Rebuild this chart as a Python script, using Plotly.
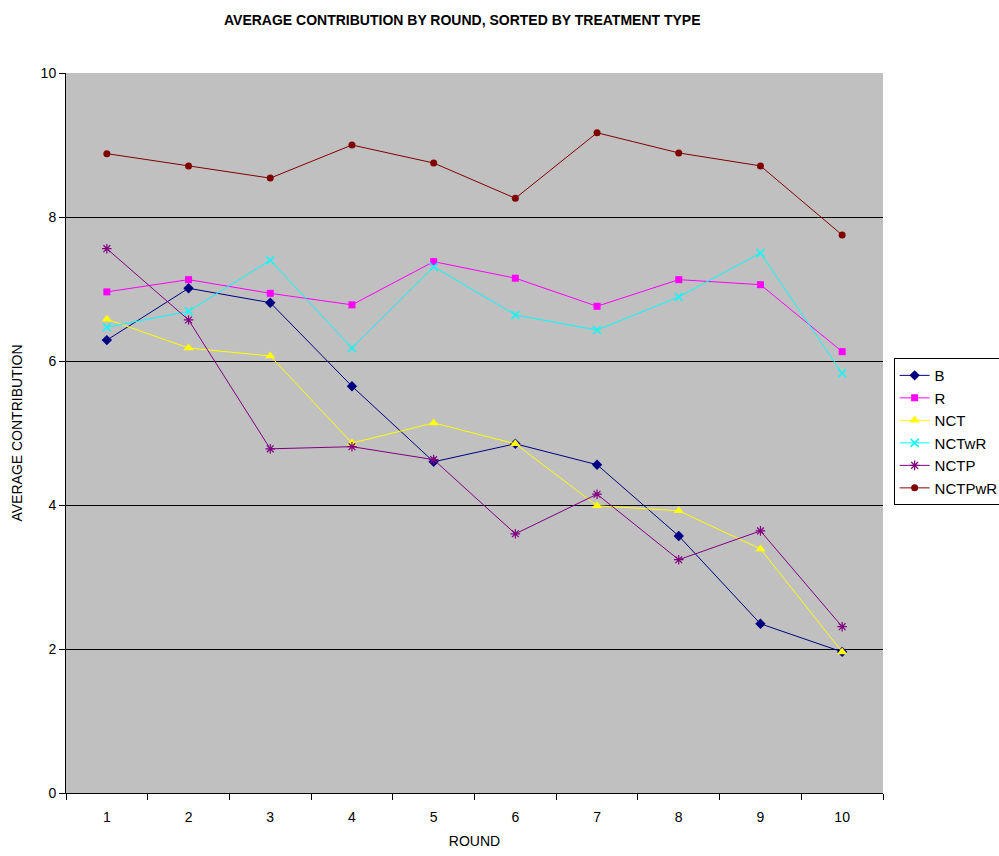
import plotly.graph_objects as go

rounds = [1, 2, 3, 4, 5, 6, 7, 8, 9, 10]

b_vals = [6.29, 7.01, 6.81, 5.65, 4.60, 4.85, 4.56, 3.57, 2.35, 1.96]
r_vals = [6.96, 7.13, 6.94, 6.78, 7.38, 7.15, 6.76, 7.13, 7.06, 6.13]
nct_vals = [6.58, 6.18, 6.07, 4.86, 5.14, 4.85, 3.99, 3.92, 3.39, 1.96]
nctwr_vals = [6.47, 6.69, 7.40, 6.18, 7.31, 6.64, 6.43, 6.89, 7.50, 5.83]
nctp_vals = [7.56, 6.57, 4.78, 4.81, 4.63, 3.60, 4.15, 3.24, 3.64, 2.31]
nctpwr_vals = [8.88, 8.71, 8.54, 9.00, 8.75, 8.26, 9.17, 8.89, 8.71, 7.75]

y_ticks = [0, 2, 4, 6, 8, 10]

series = [
    ("B", b_vals, "#000080", dict(symbol="diamond", size=8)),
    ("R", r_vals, "#FF00FF", dict(symbol="square", size=7)),
    ("NCT", nct_vals, "#FFFF00", dict(symbol="triangle-up", size=9)),
    ("NCTwR", nctwr_vals, "#00FFFF", dict(symbol="x-thin", size=8, line=dict(width=1.5, color="#00FFFF"))),
    ("NCTP", nctp_vals, "#800080", dict(symbol="asterisk", size=8, line=dict(width=1.2, color="#800080"))),
    ("NCTPwR", nctpwr_vals, "#800000", dict(symbol="circle", size=7)),
]

fig = go.Figure()
for name, vals, color, marker in series:
    fig.add_trace(go.Scatter(
        x=rounds, y=vals, name=name, mode="lines+markers",
        line=dict(color=color, width=1),
        marker=dict(color=color, **marker),
    ))

fig.update_layout(
    width=999, height=856,
    margin=dict(l=66, r=116, t=73, b=63, autoexpand=False),
    paper_bgcolor="white",
    plot_bgcolor="#C0C0C0",
    font=dict(family="Liberation Sans, Arial, sans-serif", size=14, color="black"),
    title=dict(
        text="<b>AVERAGE CONTRIBUTION BY ROUND, SORTED BY TREATMENT TYPE</b>",
        x=0.485, xref="paper", xanchor="center", y=0.982, yanchor="top",
        font=dict(size=14),
    ),
    legend=dict(
        x=1.013, y=0.604, xanchor="left", yanchor="top",
        bgcolor="white", bordercolor="black", borderwidth=1,
        font=dict(size=15), tracegroupgap=0,
    ),
    xaxis=dict(
        range=[0.5, 10.5], tickvals=rounds, ticktext=[str(r) for r in rounds],
        ticks="", showgrid=False, zeroline=False, automargin=False,
        showline=True, linecolor="black", linewidth=1,
        minor=dict(ticks="outside", tick0=0.5, dtick=1, ticklen=6, tickcolor="black", showgrid=False),
        title=dict(text="ROUND", font=dict(size=14), standoff=12),
        ticklabelstandoff=11,
    ),
    yaxis=dict(
        range=[0, 10], tickvals=y_ticks, automargin=False,
        ticks="outside", ticklen=6, tickcolor="black",
        showgrid=True, gridcolor="black", gridwidth=1,
        zeroline=False, showline=True, linecolor="black", linewidth=1,
        title=dict(text="AVERAGE CONTRIBUTION", font=dict(size=14), standoff=14),
    ),
)

fig.write_html("out.html")
